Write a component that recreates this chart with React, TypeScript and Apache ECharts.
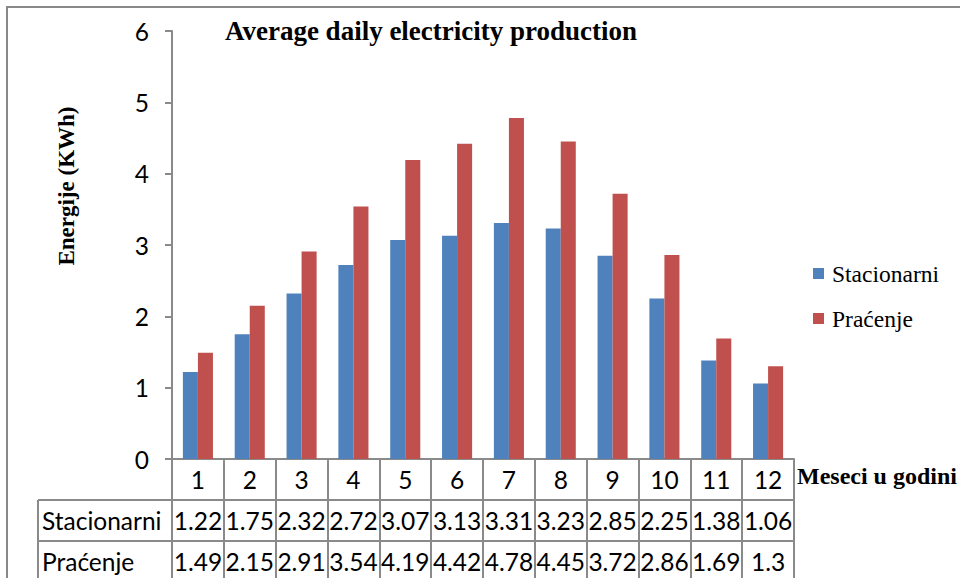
import React, { useEffect, useRef } from "react";
import * as echarts from "echarts";

const months = ["1", "2", "3", "4", "5", "6", "7", "8", "9", "10", "11", "12"];
const stacionarni = [1.22, 1.75, 2.32, 2.72, 3.07, 3.13, 3.31, 3.23, 2.85, 2.25, 1.38, 1.06];
const pracenje = [1.49, 2.15, 2.91, 3.54, 4.19, 4.42, 4.78, 4.45, 3.72, 2.86, 1.69, 1.3];
const seriesNames = ["Stacionarni", "Praćenje"];
const yTicks = { min: 0, max: 6, interval: 1 };

const TITLE = "Average daily electricity production";
const Y_NAME = "Energije (KWh)";
const X_NAME = "Meseci u godini";

const SERIF = "'Liberation Serif', 'Times New Roman', serif";
const SANS = "Lato, 'Open Sans', sans-serif";
const LINE = "#8a8a8a";
const SANS_SIZE = 24.5;

export default function App() {
  const ref = useRef<HTMLDivElement>(null);
  useEffect(() => {
    if (!ref.current) return;
    const chart = echarts.init(ref.current, null, { renderer: "svg" });
    const gridLeft = 172;
    const gridRight = 794;
    const gridTop = 31;
    const gridBottom = 459;
    const row1 = 500;
    const row2 = 541;
    chart.setOption({
      animation: false,
      backgroundColor: "#ffffff",
      grid: { left: gridLeft, right: 960 - gridRight, top: gridTop, bottom: 578 - gridBottom, containLabel: false },
      legend: { show: false },
      xAxis: {
        type: "category",
        data: months,
        boundaryGap: true,
        axisLine: { show: true, lineStyle: { color: LINE, width: 2 } },
        axisTick: { show: true, length: 130, lineStyle: { color: LINE, width: 2 } },
        axisLabel: {
          margin: 0,
          interval: 0,
          formatter: (v: string, i: number) =>
            `{a|${v}}\n{b|${stacionarni[i]}}\n{b|${pracenje[i]}}`,
          rich: {
            a: { fontFamily: SANS, fontSize: SANS_SIZE, color: "#000", lineHeight: 41, align: "center" },
            b: { fontFamily: SANS, fontSize: SANS_SIZE, color: "#000", lineHeight: 41, align: "center" },
          },
        },
      },
      yAxis: {
        type: "value",
        min: yTicks.min,
        max: yTicks.max,
        interval: yTicks.interval,
        splitLine: { show: false },
        axisLine: { show: true, lineStyle: { color: LINE, width: 2 } },
        axisTick: { show: true, length: 7, lineStyle: { color: LINE, width: 2 } },
        axisLabel: { margin: 23, fontFamily: SANS, fontSize: SANS_SIZE, color: "#000" },
      },
      series: [
        {
          name: seriesNames[0],
          type: "bar",
          data: stacionarni,
          itemStyle: { color: "#4F81BD" },
          barGap: "0%",
          barCategoryGap: "42%",
        },
        {
          name: seriesNames[1],
          type: "bar",
          data: pracenje,
          itemStyle: { color: "#C0504D" },
          barGap: "0%",
          barCategoryGap: "42%",
        },
      ],
      graphic: [
        {
          type: "rect",
          shape: { x: 7, y: 7, width: 1000, height: 1000 },
          style: { fill: "none", stroke: "#888", lineWidth: 2 },
          silent: true,
        },
        {
          type: "text",
          x: 431,
          y: 31,
          style: {
            text: TITLE,
            fontFamily: SERIF,
            fontWeight: "bold",
            fontSize: 27,
            fill: "#000",
            align: "center",
            verticalAlign: "middle",
          },
        },
        {
          type: "text",
          x: 66,
          y: 186,
          rotation: Math.PI / 2,
          style: {
            text: Y_NAME,
            fontFamily: SERIF,
            fontWeight: "bold",
            fontSize: 23,
            fill: "#000",
            align: "center",
            verticalAlign: "middle",
          },
        },
        {
          type: "text",
          x: 797,
          y: 476,
          style: {
            text: X_NAME,
            fontFamily: SERIF,
            fontWeight: "bold",
            fontSize: 24,
            fill: "#000",
            align: "left",
            verticalAlign: "middle",
          },
        },
        // legend
        { type: "rect", shape: { x: 813, y: 268, width: 11, height: 11 }, style: { fill: "#4F81BD" } },
        {
          type: "text",
          x: 832,
          y: 274,
          style: { text: seriesNames[0], fontFamily: SERIF, fontSize: 23.5, fill: "#000", verticalAlign: "middle" },
        },
        { type: "rect", shape: { x: 813, y: 313, width: 11, height: 11 }, style: { fill: "#C0504D" } },
        {
          type: "text",
          x: 832,
          y: 319,
          style: { text: seriesNames[1], fontFamily: SERIF, fontSize: 23.5, fill: "#000", verticalAlign: "middle" },
        },
        // data table lines
        { type: "line", shape: { x1: 38, y1: row1, x2: gridRight, y2: row1 }, style: { stroke: LINE, lineWidth: 2 } },
        { type: "line", shape: { x1: 38, y1: row2, x2: gridRight, y2: row2 }, style: { stroke: LINE, lineWidth: 2 } },
        { type: "line", shape: { x1: 38, y1: row1, x2: 38, y2: 600 }, style: { stroke: LINE, lineWidth: 2 } },
        {
          type: "text",
          x: 42,
          y: (row1 + row2) / 2,
          style: { text: seriesNames[0], fontFamily: SANS, fontSize: SANS_SIZE, fill: "#000", verticalAlign: "middle" },
        },
        {
          type: "text",
          x: 42,
          y: row2 + 20.5,
          style: { text: seriesNames[1], fontFamily: SANS, fontSize: SANS_SIZE, fill: "#000", verticalAlign: "middle" },
        },
      ],
    });
    return () => chart.dispose();
  }, []);
  return (
    <div
      ref={ref}
      style={{ position: "fixed", left: 0, top: 0, width: 960, height: 578 }}
    />
  );
}
